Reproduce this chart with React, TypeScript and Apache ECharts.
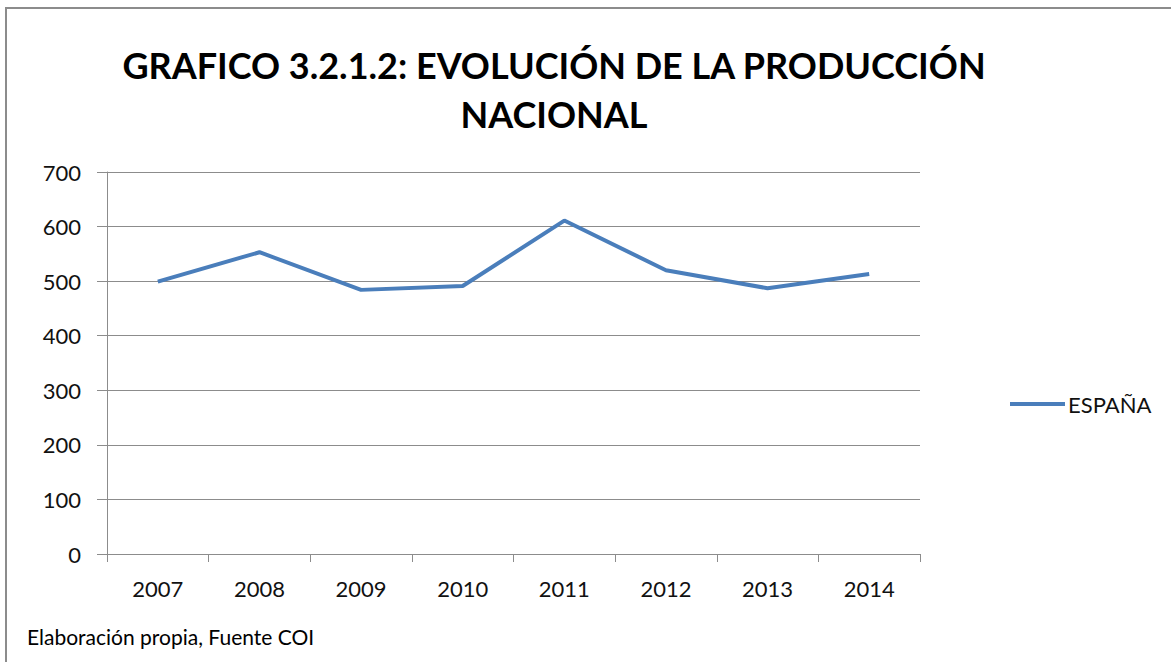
import React, { useEffect, useRef } from "react";
import * as echarts from "echarts";

const years = ["2007", "2008", "2009", "2010", "2011", "2012", "2013", "2014"];
const espana = [499, 553, 484, 491, 611, 520, 487, 513];
const seriesName = "ESPAÑA";
const titleLines = ["GRAFICO 3.2.1.2: EVOLUCIÓN DE LA PRODUCCIÓN", "NACIONAL"];
const footer = "Elaboración propia, Fuente COI";

const FONT = "Lato, 'Open Sans', sans-serif";

export default function App() {
  const ref = useRef<HTMLDivElement>(null);
  useEffect(() => {
    if (!ref.current) return;
    const chart = echarts.init(ref.current, null, { renderer: "svg" });
    chart.setOption({
      animation: false,
      backgroundColor: "#ffffff",
      textStyle: { fontFamily: FONT },
      graphic: [
        {
          type: "rect",
          shape: { x: 6, y: 8, width: 1300, height: 800 },
          style: { fill: "none", stroke: "#8c8c8c", lineWidth: 2 },
          silent: true,
        },
        {
          type: "text",
          x: 554,
          y: 65,
          style: {
            text: titleLines[0],
            fontFamily: FONT,
            fontSize: 36,
            fontWeight: "bold",
            fill: "#000",
            align: "center",
            verticalAlign: "middle",
          },
        },
        {
          type: "text",
          x: 554,
          y: 114,
          style: {
            text: titleLines[1],
            fontFamily: FONT,
            fontSize: 36,
            fontWeight: "bold",
            fill: "#000",
            align: "center",
            verticalAlign: "middle",
          },
        },
        {
          type: "text",
          x: 27,
          y: 636,
          style: {
            text: footer,
            fontFamily: FONT,
            fontSize: 21,
            fill: "#000",
            align: "left",
            verticalAlign: "middle",
          },
        },
      ],
      legend: {
        data: [seriesName],
        left: 1005,
        top: 388,
        itemWidth: 55,
        itemHeight: 4,
        itemGap: 4,
        icon: "rect",
        textStyle: { fontFamily: FONT, fontSize: 22, color: "#111", padding: [0, 0, 0, -2] },
      },
      grid: { left: 107, right: 251, top: 172, bottom: 108, containLabel: false },
      xAxis: {
        type: "category",
        data: years,
        boundaryGap: true,
        axisLine: { show: true, lineStyle: { color: "#8c8c8c", width: 1 } },
        axisTick: { show: true, length: 8, lineStyle: { color: "#8c8c8c" } },
        axisLabel: { margin: 23, fontFamily: FONT, fontSize: 22, color: "#111" },
        splitLine: { show: false },
      },
      yAxis: {
        type: "value",
        min: 0,
        max: 700,
        interval: 100,
        axisLine: { show: true, lineStyle: { color: "#8c8c8c", width: 1 } },
        axisTick: { show: true, length: 10, lineStyle: { color: "#8c8c8c" } },
        axisLabel: { margin: 26, fontFamily: FONT, fontSize: 22, color: "#111" },
        splitLine: { show: true, lineStyle: { color: "#8c8c8c", width: 1 } },
      },
      series: [
        {
          name: seriesName,
          type: "line",
          data: espana,
          symbol: "none",
          lineStyle: { color: "#4a7ebb", width: 4 },
          itemStyle: { color: "#4a7ebb" },
        },
      ],
    });
    return () => chart.dispose();
  }, []);
  return (
    <div
      ref={ref}
      style={{ position: "fixed", left: 0, top: 0, width: 1171, height: 662 }}
    />
  );
}
